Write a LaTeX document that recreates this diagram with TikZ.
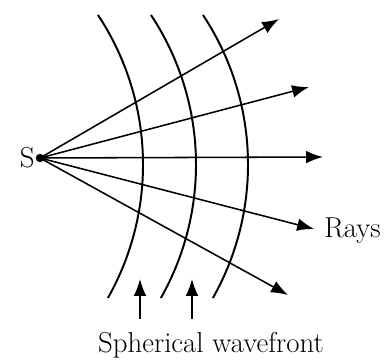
\documentclass[tikz,border=0pt]{standalone}
\usepackage{tikz}
\usetikzlibrary{positioning,arrows.meta}
\tikzset{
  ray/.style={line width=1.1pt, -{Latex[length=12pt,width=9pt]}},
  front/.style={line width=1.4pt},
  label/.style={font=\fontsize{20.5}{24}\selectfont, inner sep=0pt}
}

\begin{document}
\begin{tikzpicture}[x=0.025cm, y=-0.025cm]
  \useasboundingbox (0,0) rectangle (384,361);

  % Source point
  \node[circle, fill=black, inner sep=0pt, minimum size=6pt] (S) at (40,158) {};
  \node[label, anchor=east] (Slabel) at (35,158) {S};

  % Ray end points
  \coordinate (r1) at (279,19);
  \coordinate (r2) at (309,87);
  \coordinate (r3) at (323,157);
  \coordinate (r4) at (314,229);
  \coordinate (r5) at (288,295);

  % Rays
  \draw[ray] (S.center) -- (r1);
  \draw[ray] (S.center) -- (r2);
  \draw[ray] (S.center) -- (r3);
  \draw[ray] (S.center) -- (r4);
  \draw[ray] (S.center) -- (r5);
  \node[label, anchor=west] (rays) at (324,231) {Rays};

  % Wavefronts
  \draw[front] (98,15) arc[start angle=-33.5, end angle=29.5, radius=271];
  \draw[front] (151,15) arc[start angle=-33.5, end angle=29.5, radius=271];
  \draw[front] (203,15) arc[start angle=-33.5, end angle=29.5, radius=271];

  % Pointers to the wavefronts
  \node[label] (wave) at (211,345) {Spherical wavefront};
  \coordinate (p1) at (140,319);
  \coordinate (p2) at (192,319);
  \draw[ray] (p1) -- ++(0,-40);
  \draw[ray] (p2) -- ++(0,-40);
\end{tikzpicture}
\end{document}
